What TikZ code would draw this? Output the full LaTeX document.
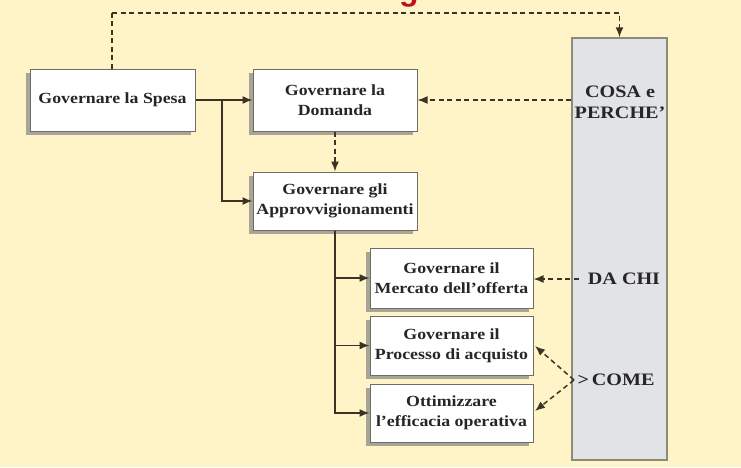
\documentclass[tikz,border=0pt]{standalone}
\usepackage{fontspec}
\setmainfont{Liberation Serif}[FakeStretch=1.15]
\newfontfamily\titlefont{Liberation Sans}
\usetikzlibrary{arrows.meta,shadows}
\definecolor{bg}{HTML}{FFF4C8}
\definecolor{boxborder}{HTML}{6E6C66}
\definecolor{shadowc}{HTML}{A8A596}
\definecolor{linec}{HTML}{3A3326}
\definecolor{tallfill}{HTML}{E2E3E6}
\definecolor{tallborder}{HTML}{8E8A78}
\definecolor{txt}{HTML}{262626}
\definecolor{titlered}{HTML}{C0101E}
\newcommand\boxfont{\bfseries\fontsize{15.5}{20}\selectfont}
\newcommand\colfont{\bfseries\fontsize{17.5}{21}\selectfont}
\begin{document}
\begin{tikzpicture}[x=1pt,y=-1pt,
  box/.style={draw=boxborder, line width=1pt, fill=white, align=center,
    font=\boxfont, text=txt, inner sep=2pt,
    drop shadow={shadow xshift=-4pt, shadow yshift=-4pt, fill=shadowc, opacity=1}},
  coltext/.style={font=\colfont, text=txt, align=center, inner sep=3pt},
  conn/.style={draw=linec, line width=1.5pt, -{Latex[length=10pt,width=8pt]}},
  dconn/.style={draw=linec, line width=1.5pt, dash pattern=on 5pt off 3.5pt, -{Latex[length=10pt,width=8pt]}},
  dline/.style={draw=linec, line width=1.5pt, dash pattern=on 5pt off 3.5pt}]
\useasboundingbox (0,0) rectangle (741,467);
\clip (0,0) rectangle (741,467);
\fill[bg] (0,0) rectangle (741,467);
% clipped title fragment
\node[anchor=base, text=titlered, font=\titlefont\bfseries\fontsize{32}{32}\selectfont, inner sep=0pt] (title) at (409,0) {g};
% tall column
\node[draw=tallborder, line width=1.5pt, fill=tallfill, minimum width=95pt, minimum height=422pt, inner sep=0pt] (tall) at (619.5,249) {};
% boxes
\node[box, minimum width=165pt, minimum height=62pt] (spesa) at (112.5,100) {Governare la Spesa};
\node[box, minimum width=164pt, minimum height=62pt] (domanda) at (335,100) {Governare la\\Domanda};
\node[box, minimum width=164pt, minimum height=58pt] (approv) at (335,201) {Governare gli\\Approvvigionamenti};
\node[box, minimum width=163pt, minimum height=60pt] (mercato) at (451.5,278) {Governare il\\Mercato dell’offerta};
\node[box, minimum width=163pt, minimum height=59pt] (processo) at (451.5,345.5) {Governare il\\Processo di acquisto};
\node[box, minimum width=163pt, minimum height=58pt] (ottim) at (451.5,413) {Ottimizzare\\l’efficacia operativa};
% column texts
\node[coltext] (cosa) at (620,102) {COSA e\\PERCHE’};
\node[coltext] (dachi) at (624,279) {DA CHI};
\node[coltext] (come) at (616,380) {>\,COME};
% solid connectors
\coordinate (j) at (222,100);
\draw[conn] (spesa.east) -- (domanda.west);
\draw[conn] (j) |- (approv.west);
\coordinate (v) at (approv.south);
\draw[conn] (v) |- (mercato.west);
\draw[conn] (v) |- (processo.west);
\draw[conn] (v) |- (ottim.west);
% dashed connectors
\coordinate (topL) at (112,13);
\draw[dline] (spesa.north -| topL) -- (topL);
\draw[dconn] (topL) -| (tall.north);
\draw[dconn] (domanda.south) -- (approv.north);
\draw[dconn] (tall.west |- domanda.east) -- (domanda.east);
\draw[dconn] (dachi.west) ++(-6,0) coordinate (dcs) (dcs) -- (mercato.east |- dachi.west);
\coordinate (apex) at (574,380);
\coordinate (pe) at (535,346);
\coordinate (oe) at (535,411);
\draw[dconn] (apex) -- (pe);
\draw[dconn] (apex) -- (oe);
\end{tikzpicture}
\end{document}
